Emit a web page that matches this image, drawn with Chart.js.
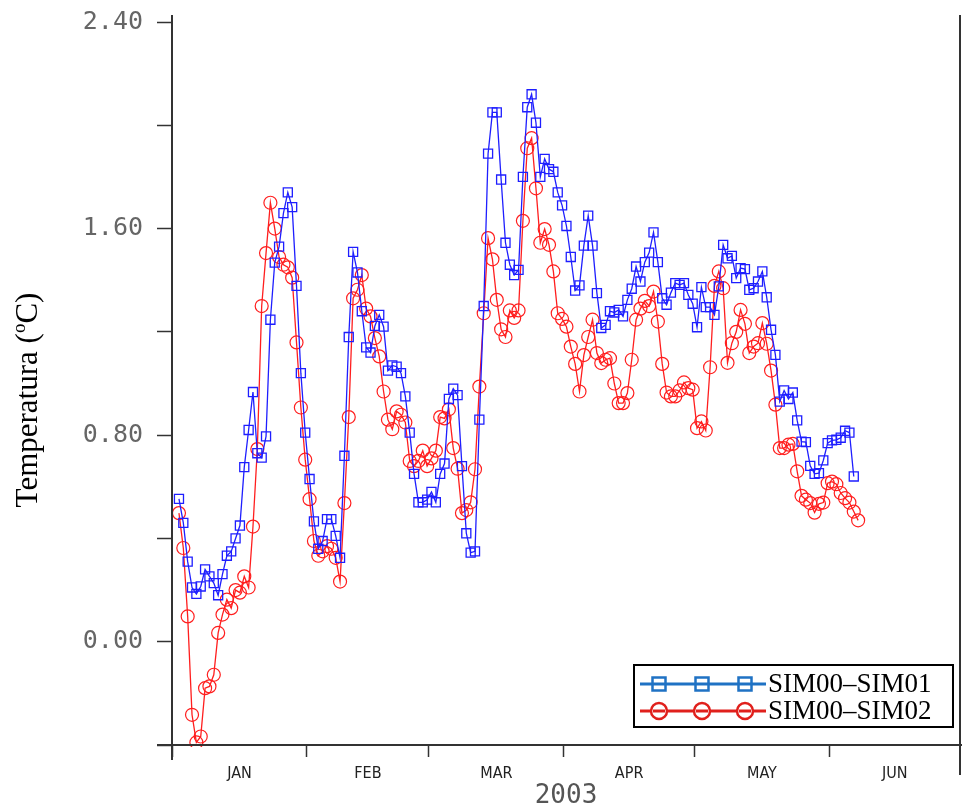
<!DOCTYPE html>
<html lang="es">
<head>
<meta charset="UTF-8">
<title>SIM00 - diferencias de temperatura 2003</title>
<script src="https://cdn.jsdelivr.net/npm/chart.js"></script>
<style>
  html, body { margin: 0; padding: 0; background: #fff; }
  canvas { display: block; }
</style>
</head>
<body>
<canvas id="grafico" width="962" height="807"></canvas>
<script>
// primer dato: días contados desde el 1 de enero (00h)
const diaInicial = 1.6;

// SIM00-SIM01, un valor diario
const sim01 = [
  0.553, 0.46, 0.31, 0.21, 0.185, 0.214, 0.28, 0.253, 0.227, 0.18,
  0.262, 0.333, 0.35, 0.40, 0.45, 0.676, 0.82, 0.967, 0.73, 0.713,
  0.795, 1.247, 1.468, 1.53, 1.66, 1.74, 1.683, 1.378, 1.04, 0.81,
  0.63, 0.466, 0.36, 0.39, 0.475, 0.475, 0.41, 0.325, 0.72, 1.18,
  1.51, 1.43, 1.28, 1.14, 1.12, 1.223, 1.266, 1.22, 1.05, 1.07,
  1.065, 1.04, 0.95, 0.81, 0.65, 0.54, 0.54, 0.55, 0.58, 0.54,
  0.65, 0.69, 0.94, 0.98, 0.955, 0.68, 0.42, 0.345, 0.35, 0.86,
  1.30, 1.89, 2.05, 2.05, 1.79, 1.545, 1.46, 1.42, 1.44, 1.80,
  2.07, 2.12, 2.01, 1.80, 1.87, 1.83, 1.82, 1.74, 1.69, 1.61,
  1.49, 1.36, 1.38, 1.534, 1.65, 1.534, 1.35, 1.215, 1.227, 1.28,
  1.275, 1.285, 1.26, 1.324, 1.367, 1.453, 1.395, 1.47, 1.507, 1.585,
  1.47, 1.33, 1.305, 1.352, 1.389, 1.382, 1.389, 1.343, 1.309, 1.218,
  1.373, 1.296, 1.296, 1.266, 1.376, 1.537, 1.485, 1.494, 1.408, 1.447,
  1.443, 1.363, 1.369, 1.395, 1.434, 1.334, 1.208, 1.111, 0.93, 0.973,
  0.94, 0.965, 0.857, 0.775, 0.773, 0.681, 0.65, 0.653, 0.702, 0.769,
  0.78, 0.782, 0.79, 0.817, 0.81, 0.64
];

// SIM00-SIM02, un valor diario
const sim02 = [
  0.498, 0.363, 0.098, -0.283, -0.39, -0.367, -0.18, -0.173, -0.128, 0.034,
  0.105, 0.163, 0.13, 0.20, 0.19, 0.253, 0.21, 0.446, 0.746, 1.30,
  1.505, 1.70, 1.60, 1.49, 1.46, 1.45, 1.41, 1.159, 0.907, 0.705,
  0.552, 0.39, 0.333, 0.35, 0.37, 0.36, 0.325, 0.233, 0.537, 0.87,
  1.33, 1.363, 1.42, 1.29, 1.26, 1.176, 1.105, 0.969, 0.86, 0.823,
  0.892, 0.879, 0.849, 0.70, 0.68, 0.70, 0.74, 0.68, 0.71, 0.74,
  0.87, 0.865, 0.90, 0.75, 0.67, 0.498, 0.51, 0.54, 0.668, 0.988,
  1.272, 1.563, 1.481, 1.324, 1.21, 1.18, 1.283, 1.254, 1.283, 1.63,
  1.911, 1.95, 1.756, 1.545, 1.598, 1.537, 1.434, 1.272, 1.25, 1.22,
  1.143, 1.076, 0.969, 1.11, 1.18, 1.247, 1.118, 1.079, 1.092, 1.098,
  1.0, 0.924, 0.924, 0.963, 1.092, 1.247, 1.29, 1.32, 1.30, 1.356,
  1.24, 1.076, 0.965, 0.95, 0.95, 0.973, 1.004, 0.982, 0.976, 0.827,
  0.853, 0.818, 1.063, 1.378, 1.434, 1.369, 1.08, 1.156, 1.2, 1.285,
  1.231, 1.118, 1.143, 1.156, 1.234, 1.154, 1.05, 0.918, 0.75, 0.75,
  0.763, 0.766, 0.66, 0.565, 0.55, 0.537, 0.50, 0.534, 0.539, 0.614,
  0.62, 0.61, 0.576, 0.556, 0.539, 0.504, 0.47
];

// eje x: límites de cada mes (días desde el 1 de enero) y sus nombres
const limitesMes = [0, 31, 59, 90, 120, 151, 181];
const meses = ['JAN', 'FEB', 'MAR', 'APR', 'MAY', 'JUN'];
const anio = '2003';

// eje y: marcas cada 0.4, con texto solo en algunas
const marcasY = [-0.4, 0, 0.4, 0.8, 1.2, 1.6, 2.0, 2.4];
const etiquetasY = ['0.00', '0.80', '1.60', '2.40'];

const nombres = ['SIM00\u2013SIM01', 'SIM00\u2013SIM02'];

const aPuntos = serie => serie.map((v, i) => ({ x: diaInicial + i, y: v }));

// marcas del eje x: límites (con raya) y mitad de mes (con nombre).
// el límite final lo marca la línea derecha del marco
const centrosMes = meses.map((m, i) => (limitesMes[i] + limitesMes[i + 1]) / 2);
const marcasX = limitesMes.slice(0, -1).concat(centrosMes).sort((a, b) => a - b);

// marco, título del eje y y leyenda
const extras = {
  id: 'extras',
  afterDraw(chart) {
    const ctx = chart.ctx;
    const a = chart.chartArea;
    ctx.save();
    ctx.strokeStyle = '#333';
    ctx.lineWidth = 2;
    ctx.beginPath();
    ctx.moveTo(a.left, a.top - 7);
    ctx.lineTo(a.left, a.bottom + 15);
    ctx.moveTo(a.left - 15, a.bottom);
    ctx.lineTo(962, a.bottom);
    ctx.moveTo(a.right, a.top - 7);
    ctx.lineTo(a.right, a.bottom + 30);
    ctx.stroke();

    // título del eje y con el "o" elevado
    ctx.translate(27, 400);
    ctx.rotate(-Math.PI / 2);
    ctx.fillStyle = '#000';
    ctx.textBaseline = 'alphabetic';
    const fuente = '31px "Liberation Serif", "Times New Roman", serif';
    const chica = '19px "Liberation Serif", "Times New Roman", serif';
    const p1 = 'Temperatura (', p2 = 'o', p3 = 'C)';
    ctx.font = fuente;
    const w1 = ctx.measureText(p1).width, w3 = ctx.measureText(p3).width;
    ctx.font = chica;
    const w2 = ctx.measureText(p2).width;
    let x = -(w1 + w2 + w3) / 2;
    ctx.font = fuente;
    ctx.fillText(p1, x, 10);
    x += w1;
    ctx.font = chica;
    ctx.fillText(p2, x, -2);
    x += w2;
    ctx.font = fuente;
    ctx.fillText(p3, x, 10);
    ctx.restore();

    // leyenda con tres marcadores por serie
    ctx.save();
    ctx.fillStyle = '#fff';
    ctx.fillRect(634, 665, 319, 62);
    ctx.strokeStyle = '#000';
    ctx.lineWidth = 2;
    ctx.strokeRect(634, 665, 319, 62);
    const filas = [
      { y: 684, color: '#1f72c4', tipo: 'rect' },
      { y: 711, color: '#e0201c', tipo: 'circle' }
    ];
    filas.forEach((f, k) => {
      ctx.strokeStyle = f.color;
      ctx.lineWidth = 3;
      ctx.beginPath();
      ctx.moveTo(640, f.y);
      ctx.lineTo(766, f.y);
      ctx.stroke();
      [659, 702, 745].forEach(px => {
        ctx.fillStyle = '#fff';
        ctx.lineWidth = 2.5;
        ctx.beginPath();
        if (f.tipo === 'rect') {
          ctx.rect(px - 6.5, f.y - 6.5, 13, 13);
        } else {
          ctx.arc(px, f.y, 8, 0, Math.PI * 2);
        }
        ctx.fill();
        ctx.stroke();
        ctx.beginPath();
        ctx.lineWidth = 3;
        ctx.moveTo(px - 6, f.y);
        ctx.lineTo(px + 6, f.y);
        ctx.stroke();
      });
      ctx.fillStyle = '#000';
      ctx.font = '27px "Liberation Serif", "Times New Roman", serif';
      ctx.textBaseline = 'middle';
      ctx.fillText(nombres[k], 768, f.y + 1);
    });
    ctx.restore();
  }
};

new Chart(document.getElementById('grafico'), {
  type: 'line',
  data: {
    datasets: [
      {
        label: nombres[0],
        data: aPuntos(sim01),
        borderColor: 'rgb(30,30,255)',
        backgroundColor: 'rgba(0,0,0,0)',
        borderWidth: 1.3,
        pointStyle: 'rect',
        pointRadius: 6.4,
        pointBorderWidth: 1.3,
        pointBackgroundColor: 'rgba(0,0,0,0)',
        pointBorderColor: 'rgb(30,30,255)',
        tension: 0,
        clip: 2
      },
      {
        label: nombres[1],
        data: aPuntos(sim02),
        borderColor: 'rgb(255,30,30)',
        backgroundColor: 'rgba(0,0,0,0)',
        borderWidth: 1.3,
        pointStyle: 'circle',
        pointRadius: 6.5,
        pointBorderWidth: 1.2,
        pointBackgroundColor: 'rgba(0,0,0,0)',
        pointBorderColor: 'rgb(255,30,30)',
        tension: 0,
        clip: 2
      }
    ]
  },
  options: {
    responsive: false,
    animation: false,
    devicePixelRatio: 1,
    layout: {
      autoPadding: false,
      padding: { left: 0, right: 2, top: 22, bottom: 0 }
    },
    plugins: {
      legend: { display: false },
      tooltip: { enabled: false }
    },
    scales: {
      x: {
        type: 'linear',
        min: limitesMes[0],
        max: limitesMes[limitesMes.length - 1],
        afterBuildTicks: eje => { eje.ticks = marcasX.map(v => ({ value: v })); },
        afterFit: eje => {
          eje.height = 62;
          eje.paddingLeft = 0;
          eje.paddingRight = 0;
        },
        ticks: {
          autoSkip: false,
          maxRotation: 0,
          padding: 7,
          color: '#222',
          font: { family: 'DejaVu Sans Condensed, DejaVu Sans', size: 16 },
          callback: v => {
            const k = centrosMes.indexOf(v);
            return k >= 0 ? meses[k] : '';
          }
        },
        grid: {
          drawOnChartArea: false,
          tickLength: 12,
          tickWidth: 1.5,
          tickColor: c => (c.tick && limitesMes.includes(c.tick.value)) ? '#333' : 'rgba(0,0,0,0)'
        },
        border: { display: false },
        title: {
          display: true,
          text: anio,
          color: '#555',
          padding: 0,
          font: { family: 'DejaVu Sans Mono', size: 26, lineHeight: 0.8 }
        }
      },
      y: {
        min: marcasY[0],
        max: marcasY[marcasY.length - 1],
        afterBuildTicks: eje => { eje.ticks = marcasY.map(v => ({ value: v })); },
        afterFit: eje => {
          eje.width = 172;
          eje.paddingTop = 0;
          eje.paddingBottom = 0;
        },
        ticks: {
          padding: 14,
          color: '#666',
          font: { family: 'DejaVu Sans Mono', size: 25 },
          callback: v => {
            const t = v.toFixed(2);
            return etiquetasY.includes(t) ? t : '';
          }
        },
        grid: {
          drawOnChartArea: false,
          tickLength: 15,
          tickWidth: 1.5,
          tickColor: '#333'
        },
        border: { display: false }
      }
    }
  },
  plugins: [extras]
});
</script>
</body>
</html>
